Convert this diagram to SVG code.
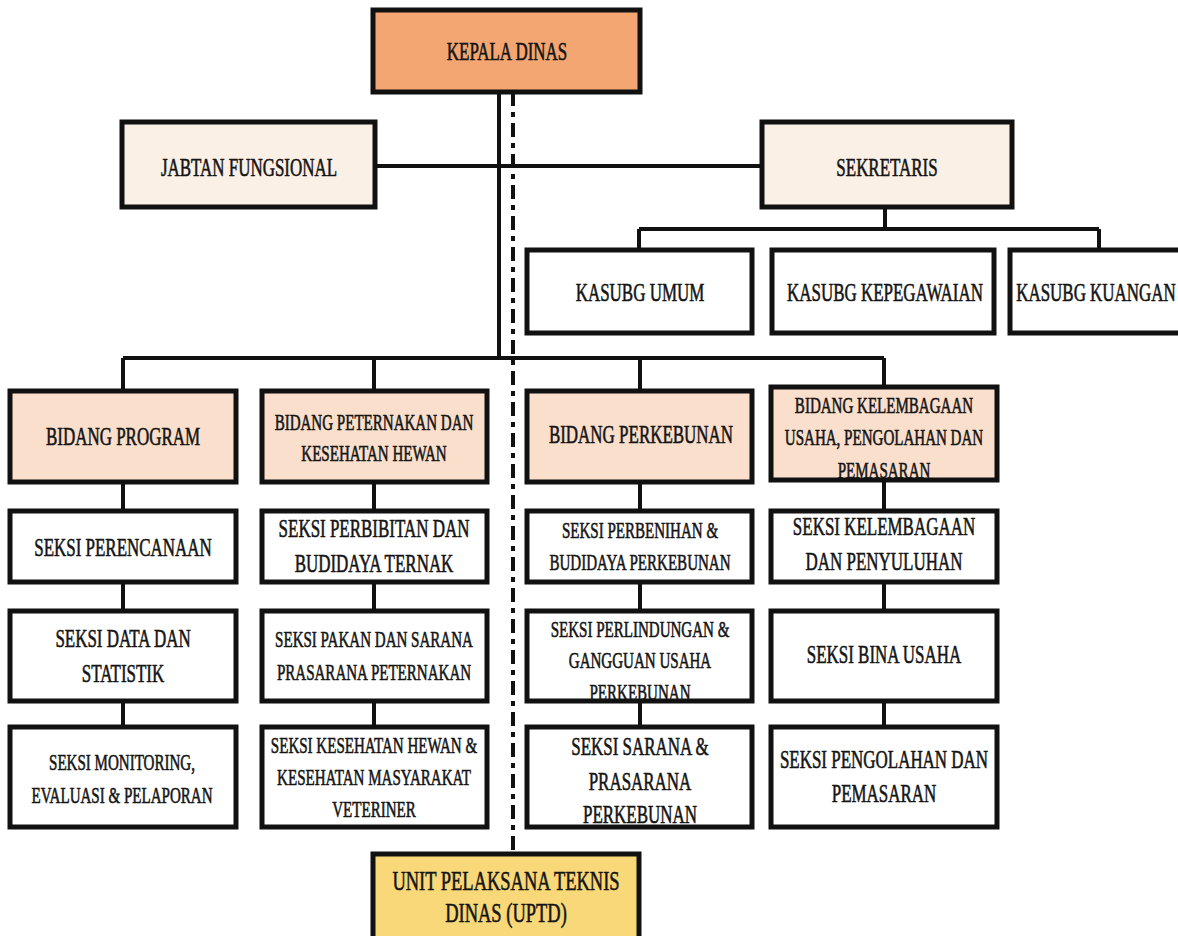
<svg xmlns="http://www.w3.org/2000/svg" width="1178" height="936" viewBox="0 0 1178 936">
<style>
.b{stroke:#111;stroke-width:5;}
.w{fill:#ffffff;}
.o{fill:#F4A672;}
.c{fill:#FBF0E6;}
.p{fill:#FADFCC;}
.y{fill:#F8D878;}
.t{font-family:"Liberation Serif","Times New Roman",serif;fill:#151515;stroke:#151515;stroke-width:0.6;text-anchor:middle;}
.f26{font-size:25.7px;}
.f23{font-size:22.8px;}
.f28{font-size:28px;}
.ln{stroke:#111;stroke-width:4;fill:none;}
.dash{stroke:#111;stroke-width:4;fill:none;stroke-dasharray:14 6 5 6;}
</style>
<rect x="0" y="0" width="1178" height="936" fill="#ffffff"/>
<g id="connectors">
<line class="ln" x1="499" y1="92" x2="499" y2="358"/>
<line class="ln" x1="375" y1="166" x2="762" y2="166"/>
<line class="ln" x1="885" y1="207" x2="885" y2="229"/>
<line class="ln" x1="639" y1="229" x2="1099" y2="229"/>
<line class="ln" x1="639" y1="229" x2="639" y2="250"/>
<line class="ln" x1="1099" y1="229" x2="1099" y2="250"/>
<line class="ln" x1="123" y1="358" x2="884" y2="358"/>
<line class="ln" x1="123" y1="358" x2="123" y2="391"/>
<line class="ln" x1="374" y1="358" x2="374" y2="391"/>
<line class="ln" x1="640" y1="358" x2="640" y2="391"/>
<line class="ln" x1="884" y1="358" x2="884" y2="387"/>
<line class="ln" x1="123" y1="482" x2="123" y2="727"/>
<line class="ln" x1="374" y1="482" x2="374" y2="727"/>
<line class="ln" x1="640" y1="482" x2="640" y2="727"/>
<line class="ln" x1="884" y1="480" x2="884" y2="727"/>
<line class="dash" x1="513" y1="92" x2="513" y2="854"/>
</g>
<g id="kepala-dinas">
<rect class="b o" x="373" y="10" width="267" height="82"/>
<text class="t f26" transform="translate(507,0) scale(0.66,1)" x="0" y="60">KEPALA DINAS</text>
</g>
<g id="jabatan-fungsional">
<rect class="b c" x="122" y="122" width="253" height="85"/>
<text class="t f26" transform="translate(249,0) scale(0.66,1)" x="0" y="176">JABTAN FUNGSIONAL</text>
</g>
<g id="sekretaris">
<rect class="b c" x="762" y="122" width="250" height="85"/>
<text class="t f26" transform="translate(887,0) scale(0.66,1)" x="0" y="176">SEKRETARIS</text>
</g>
<g id="kasubg-umum">
<rect class="b w" x="527" y="250" width="225" height="83"/>
<text class="t f26" transform="translate(640,0) scale(0.66,1)" x="0" y="301">KASUBG UMUM</text>
</g>
<g id="kasubg-kepegawaian">
<rect class="b w" x="772" y="250" width="222" height="83"/>
<text class="t f26" transform="translate(885,0) scale(0.66,1)" x="0" y="301">KASUBG KEPEGAWAIAN</text>
</g>
<g id="kasubg-kuangan">
<rect class="b w" x="1010" y="250" width="180" height="83"/>
<text class="t f26" transform="translate(1096,0) scale(0.66,1)" x="0" y="301">KASUBG KUANGAN</text>
</g>
<g id="bidang-program">
<rect class="b p" x="10" y="391" width="226" height="91"/>
<text class="t f26" transform="translate(123,0) scale(0.66,1)" x="0" y="445">BIDANG PROGRAM</text>
</g>
<g id="bidang-peternakan">
<rect class="b p" x="262" y="391" width="225" height="91"/>
<text class="t f23" transform="translate(374,0) scale(0.66,1)"><tspan x="0" y="430">BIDANG PETERNAKAN DAN</tspan><tspan x="0" y="461">KESEHATAN HEWAN</tspan></text>
</g>
<g id="bidang-perkebunan">
<rect class="b p" x="527" y="391" width="225" height="91"/>
<text class="t f26" transform="translate(641,0) scale(0.66,1)" x="0" y="443">BIDANG PERKEBUNAN</text>
</g>
<g id="bidang-kelembagaan">
<rect class="b p" x="771" y="387" width="226" height="93"/>
<text class="t f23" transform="translate(884,0) scale(0.66,1)"><tspan x="0" y="413">BIDANG KELEMBAGAAN</tspan><tspan x="0" y="445">USAHA, PENGOLAHAN DAN</tspan><tspan x="0" y="478">PEMASARAN</tspan></text>
</g>
<g id="seksi-perencanaan">
<rect class="b w" x="10" y="511" width="226" height="71"/>
<text class="t f26" transform="translate(123,0) scale(0.66,1)" x="0" y="556">SEKSI PERENCANAAN</text>
</g>
<g id="seksi-perbibitan">
<rect class="b w" x="262" y="511" width="225" height="71"/>
<text class="t f26" transform="translate(374,0) scale(0.66,1)"><tspan x="0" y="537">SEKSI PERBIBITAN DAN</tspan><tspan x="0" y="572">BUDIDAYA TERNAK</tspan></text>
</g>
<g id="seksi-perbenihan">
<rect class="b w" x="527" y="511" width="225" height="71"/>
<text class="t f23" transform="translate(640,0) scale(0.66,1)"><tspan x="0" y="538">SEKSI PERBENIHAN &amp;</tspan><tspan x="0" y="570">BUDIDAYA PERKEBUNAN</tspan></text>
</g>
<g id="seksi-kelembagaan">
<rect class="b w" x="771" y="511" width="226" height="71"/>
<text class="t f26" transform="translate(884,0) scale(0.66,1)"><tspan x="0" y="535">SEKSI KELEMBAGAAN</tspan><tspan x="0" y="570">DAN PENYULUHAN</tspan></text>
</g>
<g id="seksi-data">
<rect class="b w" x="10" y="611" width="226" height="90"/>
<text class="t f26" transform="translate(123,0) scale(0.66,1)"><tspan x="0" y="647">SEKSI DATA DAN</tspan><tspan x="0" y="682">STATISTIK</tspan></text>
</g>
<g id="seksi-pakan">
<rect class="b w" x="262" y="611" width="225" height="90"/>
<text class="t f23" transform="translate(374,0) scale(0.66,1)"><tspan x="0" y="647">SEKSI PAKAN DAN SARANA</tspan><tspan x="0" y="680">PRASARANA PETERNAKAN</tspan></text>
</g>
<g id="seksi-perlindungan">
<rect class="b w" x="527" y="611" width="225" height="90"/>
<text class="t f23" transform="translate(640,0) scale(0.66,1)"><tspan x="0" y="637">SEKSI PERLINDUNGAN &amp;</tspan><tspan x="0" y="668">GANGGUAN USAHA</tspan><tspan x="0" y="700">PERKEBUNAN</tspan></text>
</g>
<g id="seksi-bina-usaha">
<rect class="b w" x="771" y="611" width="226" height="90"/>
<text class="t f26" transform="translate(884,0) scale(0.66,1)" x="0" y="663">SEKSI BINA USAHA</text>
</g>
<g id="seksi-monitoring">
<rect class="b w" x="10" y="727" width="226" height="100"/>
<text class="t f23" transform="translate(122,0) scale(0.66,1)"><tspan x="0" y="770">SEKSI MONITORING,</tspan><tspan x="0" y="803">EVALUASI &amp; PELAPORAN</tspan></text>
</g>
<g id="seksi-kesehatan-hewan">
<rect class="b w" x="262" y="727" width="225" height="100"/>
<text class="t f23" transform="translate(374,0) scale(0.66,1)"><tspan x="0" y="753">SEKSI KESEHATAN HEWAN &amp;</tspan><tspan x="0" y="785">KESEHATAN MASYARAKAT</tspan><tspan x="0" y="817">VETERINER</tspan></text>
</g>
<g id="seksi-sarana">
<rect class="b w" x="527" y="727" width="225" height="100"/>
<text class="t f26" transform="translate(640,0) scale(0.66,1)"><tspan x="0" y="755">SEKSI SARANA &amp;</tspan><tspan x="0" y="790">PRASARANA</tspan><tspan x="0" y="823">PERKEBUNAN</tspan></text>
</g>
<g id="seksi-pengolahan">
<rect class="b w" x="771" y="727" width="226" height="100"/>
<text class="t f26" transform="translate(884,0) scale(0.66,1)"><tspan x="0" y="768">SEKSI PENGOLAHAN DAN</tspan><tspan x="0" y="802">PEMASARAN</tspan></text>
</g>
<g id="uptd">
<rect class="b y" x="373" y="854" width="266" height="95"/>
<text class="t f28" transform="translate(506,0) scale(0.66,1)"><tspan x="0" y="890">UNIT PELAKSANA TEKNIS</tspan><tspan x="0" y="922">DINAS (UPTD)</tspan></text>
</g>
</svg>
